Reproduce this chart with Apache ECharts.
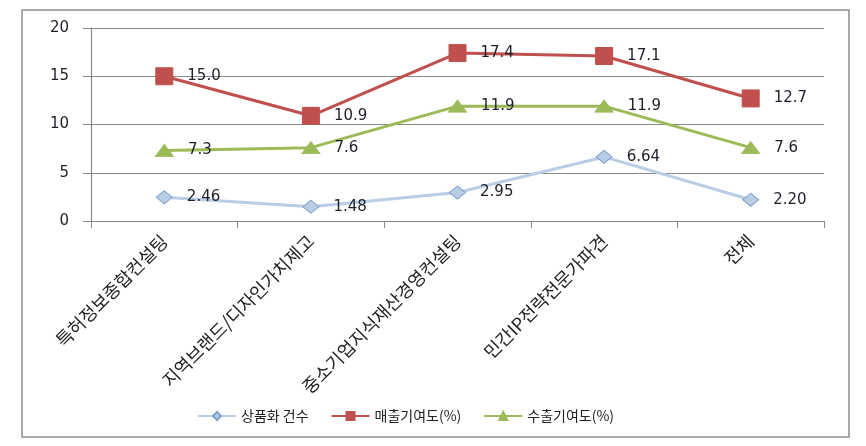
<!DOCTYPE html>
<html><head><meta charset="utf-8">
<script src="https://cdn.jsdelivr.net/npm/echarts@6/dist/echarts.min.js"></script>
<style>html,body{margin:0;padding:0;background:#fff}#c{width:866px;height:446px}</style>
</head><body><div id="c"></div>
<script>
const categories = ['특허정보종합컨설팅','지역브랜드/디자인가치제고','중소기업지식재산경영컨설팅','민간IP전략전문가파견','전체'];
const seriesNames = ['상품화 건수','매출기여도(%)','수출기여도(%)'];
const commercialization = [2.46, 1.48, 2.95, 6.64, 2.20];
const salesContribution = [15.0, 10.9, 17.4, 17.1, 12.7];
const exportContribution = [7.3, 7.6, 11.9, 11.9, 7.6];
const labelDecimals = [2, 1, 1];
const yTicks = {min: 0, max: 20, interval: 5};

const font = "'Noto Sans CJK KR', 'Noto Sans', sans-serif";
const numFont = "'DejaVu Sans', sans-serif";
const chart = echarts.init(document.getElementById('c'));
function mk(name, data, color, borderColor, symbol, size, dec, lw) {
  return {
    name, type: 'line', data, symbol, symbolSize: size,
    lineStyle: {color, width: lw},
    itemStyle: {color, borderColor, borderWidth: 1},
    label: {show: true, position: 'right', distance: 14, color: '#1f1f2a', fontFamily: numFont, fontSize: 15,
      formatter: p => Number(p.value).toFixed(dec)},
    z: 3
  };
}
chart.setOption({
  animation: false,
  graphic: [{type: 'rect', shape: {x: 22, y: 10, width: 827, height: 427}, style: {fill: 'none', stroke: '#8c8c8c', lineWidth: 1.5}}],
  grid: {left: 91, right: 42, top: 28, bottom: 225},
  legend: {left: 192, top: 404, itemGap: 22, itemWidth: 38, itemHeight: 10,
    textStyle: {fontFamily: font, fontSize: 14, color: '#222'},
    data: seriesNames},
  xAxis: {type: 'category', data: categories, boundaryGap: true,
    axisLine: {lineStyle: {color: '#888', width: 1.2}},
    axisTick: {show: true, length: 7, lineStyle: {color: '#888'}},
    axisLabel: {rotate: 45, fontFamily: font, fontSize: 18, color: '#222', margin: 17, interval: 0}},
  yAxis: {type: 'value', min: yTicks.min, max: yTicks.max, interval: yTicks.interval,
    axisLine: {show: true, lineStyle: {color: '#888', width: 1.2}},
    axisTick: {show: true, length: 8, lineStyle: {color: '#888'}},
    splitLine: {lineStyle: {color: '#888', width: 1.2}},
    axisLabel: {fontFamily: numFont, fontSize: 15, color: '#1f1f2a', margin: 22, padding: [3, 0, 0, 0]}},
  series: [
    mk(seriesNames[0], commercialization, '#B9CDE5', '#7F9FCF', 'diamond', [16, 13], labelDecimals[0], 3),
    mk(seriesNames[1], salesContribution, '#C0504D', '#C0504D', 'rect', 17, labelDecimals[1], 3),
    mk(seriesNames[2], exportContribution, '#9BBB59', '#9BBB59', 'triangle', [18, 12], labelDecimals[2], 3)
  ]
});
</script></body></html>
